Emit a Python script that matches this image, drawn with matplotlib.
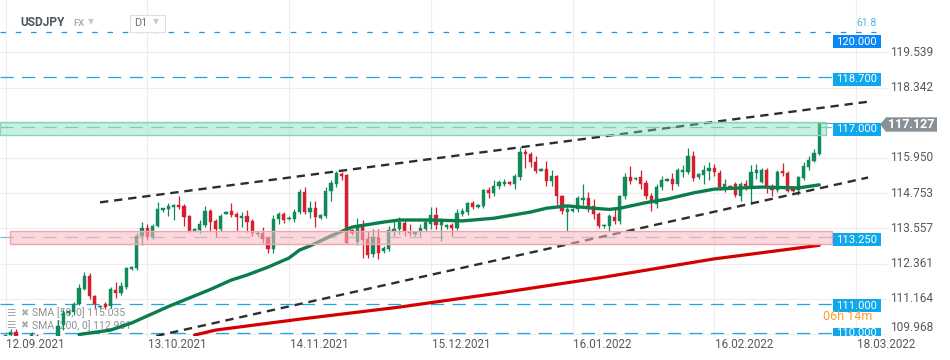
import matplotlib
matplotlib.use("Agg")
import matplotlib.pyplot as plt
import matplotlib.transforms as mtransforms
from matplotlib.patches import Rectangle, Polygon
import pandas as pd

plt.rcParams['font.family'] = ['Roboto', 'DejaVu Sans']
plt.rcParams['lines.scale_dashes'] = False

# ---------------- data ----------------
symbol = "USDJPY"
market = "FX"
interval = "D1"
dates = [d for d in pd.date_range("2021-09-12", "2022-03-11") if d.weekday() != 5]

opens = [109.90, 109.92, 110.05, 109.70, 109.38, 109.72, 109.90, 109.85, 109.40, 109.22,
         109.78, 110.27, 110.68, 110.72, 111.00, 111.50, 111.94, 111.27, 110.88, 110.97,
         110.92, 111.46, 111.36, 111.58, 112.18, 112.22, 113.28, 113.58, 113.25, 113.65,
         114.18, 114.20, 114.28, 114.36, 114.30, 113.97, 113.48, 113.50, 113.68, 114.15,
         113.82, 113.55, 114.05, 114.14, 114.05, 113.92, 113.98, 113.80, 113.35, 113.40,
         113.22, 112.85, 113.88, 114.05, 113.86, 113.88, 114.10, 114.80, 114.10, 114.25,
         113.90, 113.98, 114.82, 115.08, 115.42, 115.37, 113.50, 113.10, 113.60, 113.20,
         112.70, 113.22, 112.78, 112.85, 113.45, 113.52, 113.75, 113.44, 113.35, 113.45,
         113.55, 113.72, 114.02, 113.66, 113.60, 113.66, 113.58, 114.06, 114.10, 114.43,
         114.28, 114.32, 114.85, 114.75, 114.98, 115.05, 115.12, 115.05, 115.30, 116.15,
         116.10, 115.82, 115.52, 115.58, 115.15, 115.32, 114.65, 114.10, 114.15, 114.20,
         114.52, 114.60, 114.32, 114.05, 113.62, 113.65, 113.95, 113.80, 114.65, 115.30,
         115.22, 115.30, 115.10, 114.65, 114.40, 114.95, 115.18, 115.25, 115.08, 115.48,
         115.48, 116.00, 115.30, 115.38, 115.50, 115.62, 115.45, 114.95, 115.00, 115.08,
         114.65, 115.07, 114.98, 115.45, 115.14, 115.54, 114.95, 114.85, 115.50, 115.45,
         114.90, 114.86, 115.28, 115.65, 115.85, 116.10]
highs = [109.95, 110.15, 110.15, 109.75, 109.85, 110.05, 109.95, 109.90, 109.70, 109.85,
         110.45, 110.80, 110.78, 111.07, 111.68, 112.08, 112.05, 111.30, 110.95, 111.05,
         111.58, 111.72, 111.75, 112.25, 112.27, 113.40, 113.78, 113.72, 113.70, 114.45,
         114.26, 114.43, 114.40, 114.66, 114.40, 114.00, 113.56, 113.85, 114.30, 114.22,
         113.88, 114.05, 114.15, 114.43, 114.12, 114.12, 114.18, 113.88, 113.45, 113.60,
         113.30, 114.00, 114.10, 114.10, 113.96, 114.20, 114.88, 114.97, 114.50, 114.50,
         114.05, 114.95, 115.20, 115.52, 115.47, 115.42, 113.55, 113.90, 113.85, 113.45,
         113.55, 113.55, 112.95, 113.62, 113.80, 113.95, 113.85, 113.70, 113.45, 113.70,
         113.85, 114.27, 114.27, 113.90, 113.70, 113.75, 114.20, 114.25, 114.45, 114.48,
         114.38, 114.90, 114.95, 115.20, 115.20, 115.22, 115.15, 115.40, 116.33, 116.25,
         116.16, 116.00, 115.60, 115.85, 115.55, 115.38, 114.70, 114.30, 114.25, 114.65,
         115.05, 114.78, 114.55, 114.10, 113.70, 114.05, 114.20, 114.70, 115.45, 115.68,
         115.30, 115.55, 115.20, 114.75, 115.05, 115.35, 115.28, 115.45, 115.60, 115.70,
         116.30, 116.20, 115.45, 115.70, 115.80, 115.75, 115.55, 115.25, 115.02, 115.12,
         115.12, 115.20, 115.70, 115.75, 115.60, 115.60, 115.05, 115.55, 115.78, 115.50,
         114.92, 115.35, 115.80, 116.00, 116.25, 117.18]
lows = [109.85, 109.80, 109.55, 109.12, 109.25, 109.60, 109.80, 109.12, 109.10, 109.10,
        109.65, 110.10, 110.62, 110.60, 110.95, 111.45, 111.15, 110.85, 110.85, 110.82,
        110.85, 111.20, 111.30, 111.50, 112.15, 112.15, 113.00, 113.15, 113.18, 113.60,
        114.12, 113.97, 113.84, 114.20, 113.62, 113.42, 113.45, 113.40, 113.60, 113.45,
        113.26, 113.45, 114.03, 113.94, 113.48, 113.60, 113.43, 113.30, 113.30, 113.05,
        112.72, 112.73, 113.70, 113.75, 113.84, 113.78, 114.05, 114.05, 113.90, 113.60,
        113.88, 113.90, 114.48, 114.95, 115.20, 113.03, 113.32, 112.98, 112.55, 112.55,
        112.60, 112.50, 112.72, 112.78, 113.30, 113.35, 113.30, 113.30, 113.30, 113.30,
        113.45, 113.55, 113.55, 113.12, 113.55, 113.30, 113.50, 113.98, 114.00, 114.22,
        114.25, 114.25, 114.60, 114.65, 114.90, 114.98, 115.02, 114.88, 115.20, 115.60,
        115.64, 115.45, 115.50, 114.98, 114.98, 114.35, 114.05, 113.48, 114.10, 114.10,
        114.35, 114.10, 113.88, 113.58, 113.58, 113.48, 113.70, 113.72, 114.55, 115.05,
        115.20, 114.90, 114.55, 114.15, 114.25, 114.85, 115.15, 114.85, 115.00, 115.30,
        115.40, 115.15, 115.25, 115.05, 115.20, 115.35, 114.85, 114.80, 114.92, 114.62,
        114.50, 114.85, 114.38, 115.25, 115.10, 114.75, 114.65, 114.80, 115.35, 114.78,
        114.78, 114.70, 115.20, 115.55, 115.80, 116.05]
closes = [109.92, 110.05, 109.70, 109.38, 109.72, 109.95, 109.85, 109.40, 109.22, 109.78,
          110.25, 110.67, 110.75, 111.00, 111.52, 111.95, 111.25, 110.97, 110.93, 110.90,
          111.50, 111.35, 111.60, 112.20, 112.24, 113.30, 113.58, 113.25, 113.65, 114.20,
          114.24, 114.32, 114.36, 114.28, 113.95, 113.45, 113.53, 113.70, 114.15, 113.78,
          113.55, 113.98, 114.12, 114.00, 113.95, 113.98, 113.77, 113.40, 113.40, 113.20,
          112.85, 113.88, 114.05, 113.85, 113.92, 114.12, 114.80, 114.10, 114.25, 113.95,
          114.02, 114.82, 115.10, 115.45, 115.35, 113.06, 113.40, 113.62, 113.16, 112.65,
          113.25, 112.72, 112.90, 113.50, 113.55, 113.78, 113.45, 113.40, 113.42, 113.58,
          113.78, 114.02, 113.68, 113.76, 113.66, 113.56, 114.08, 114.14, 114.42, 114.28,
          114.36, 114.85, 114.75, 115.00, 115.12, 115.12, 115.06, 115.33, 116.15, 116.08,
          115.80, 115.50, 115.58, 115.15, 115.33, 114.65, 114.15, 114.20, 114.22, 114.58,
          114.60, 114.33, 114.05, 113.62, 113.68, 113.98, 113.80, 114.65, 115.30, 115.16,
          115.28, 115.05, 114.65, 114.45, 114.95, 115.20, 115.25, 115.08, 115.55, 115.55,
          116.02, 115.28, 115.42, 115.55, 115.62, 115.48, 114.95, 115.08, 114.95, 114.68,
          115.08, 114.98, 115.48, 115.55, 115.54, 114.96, 114.85, 115.48, 115.43, 114.82,
          114.82, 115.30, 115.66, 115.88, 116.13, 117.127]

sma50_idx = [14, 20, 24, 31, 39, 43, 46, 50, 54, 56, 58, 62, 66, 72, 75, 81, 87, 93,
             100, 103, 107, 112, 115, 117, 122, 126, 131, 135, 144, 151, 155]
sma50_val = [109.95, 110.10, 110.34, 110.90, 111.48, 111.80, 111.97, 112.24, 112.55, 112.82,
             112.96, 113.30, 113.60, 113.77, 113.84, 113.84, 113.81, 113.90, 114.11, 114.24,
             114.32, 114.24, 114.20, 114.24, 114.43, 114.55, 114.76, 114.89, 114.96, 114.93, 115.035]
sma200_idx = [36, 40, 56, 75, 94, 113, 135, 155]
sma200_val = [109.93, 110.10, 110.47, 110.88, 111.36, 111.87, 112.52, 112.981]

sma50_label = "SMA [50, 0] 115.035"
sma200_label = "SMA [200, 0] 112.981"

channel_upper_idx = [18.0, 164.3]
channel_upper_val = [114.44, 117.86]
channel_lower_idx = [28.7, 164.3]
channel_lower_val = [109.90, 115.285]

fib_level = 120.24
fib_label = "61.8"
level_values = [120.000, 118.700, 117.000, 113.250, 111.000, 110.000]
level_labels = ["120.000", "118.700", "117.000", "113.250", "111.000", "110.000"]
resistance_zone = [116.73, 117.16]
support_zone = [113.02, 113.47]
last_price = 117.127
countdown = "06h 14m"

price_ticks = [119.539, 118.342, 117.146, 115.950, 114.753, 113.557, 112.361, 111.164, 109.968]
price_tick_labels = ["119.539", "118.342", "", "115.950", "114.753", "113.557", "112.361", "111.164", "109.968"]
date_tick_pos = [0, 27, 54, 81, 108, 135, 162]
date_tick_labels = ["12.09.2021", "13.10.2021", "14.11.2021", "15.12.2021",
                    "16.01.2022", "16.02.2022", "18.03.2022"]

# ---------------- figure ----------------
W, H = 950, 360
fig = plt.figure(figsize=(W / 100, H / 100), dpi=100)
fig.patch.set_facecolor("white")
ax = fig.add_axes([0, 24 / H, 887 / W, 336 / H])
ax.set_xlim(-1.057, 167.9)
ax.set_ylim(109.899, 121.316)
ax.axis("off")

YB, YT = 109.899, 121.316
XL, XR = -1.057, 167.9


def px(x, y):
    return x / W, 1 - y / H


def ix(xpx):  # pixel -> index units (layout only)
    return XL + (XR - XL) * xpx / 887.0


GREEN = "#108a59"
RED = "#d61f2e"

# grid
for t in date_tick_pos:
    ax.axvline(t, color="#ededed", lw=0.8, zorder=0)
for p in price_ticks:
    ax.axhline(p, color="#ededed", lw=0.8, zorder=0)

# horizontal levels
lvl_colors = ["#1b97e2", "#1ba6e8", "#62c2e6", "#94b2d6", "#1ba6e8", "#1ba6e8"]
for v, c in zip(level_values[1:], lvl_colors[1:]):
    ax.plot([XL, ix(833)], [v, v], color=c, lw=0.9, dashes=(9.5, 6.0), zorder=2)
ax.plot([XL, ix(876)], [fib_level, fib_level], color="#1b97e2", lw=0.9,
        dashes=(4.0, 7.0), zorder=2)

# candles
for i, (o, h, l, c) in enumerate(zip(opens, highs, lows, closes)):
    col = GREEN if c >= o else RED
    ax.vlines(i, l, h, color=col, lw=0.9, zorder=3)
    b = min(o, c)
    hgt = max(abs(c - o), 0.04)
    ax.add_patch(Rectangle((i - 0.31, b), 0.62, hgt, facecolor=col,
                           edgecolor=col, lw=0.3, zorder=3))

# SMA lines
ax.plot(sma200_idx, sma200_val, color="#d40000", lw=2.3, zorder=4, solid_capstyle="round")
ax.plot(sma50_idx, sma50_val, color="#0b7d4c", lw=2.4, zorder=4, solid_capstyle="round")

# channel lines
ax.plot(channel_upper_idx, channel_upper_val, color="#2d2d2d", lw=1.7, dashes=(6.0, 4.2), zorder=4)
ax.plot(channel_lower_idx, channel_lower_val, color="#2d2d2d", lw=1.7, dashes=(6.0, 4.2), zorder=4)

# zones (drawn on top, semi-transparent)
ax.add_patch(Rectangle((XL, resistance_zone[0]), ix(826) - XL, resistance_zone[1] - resistance_zone[0],
                       facecolor=(0.50, 0.86, 0.72, 0.42), edgecolor="#80d9b6", lw=1.0, zorder=5))
ax.add_patch(Rectangle((ix(10), support_zone[0]), ix(832) - ix(10), support_zone[1] - support_zone[0],
                       facecolor=(0.97, 0.72, 0.75, 0.55), edgecolor="#f3a4ab", lw=1.0, zorder=5))

# current price line
ax.plot([len(closes) - 1, XR], [last_price, last_price], color="#8b9297", lw=0.8, zorder=4)

# level label boxes (inside axes, right side)
box_colors = ["#0a86f5", "#0ea8ec", "#0ea8ec", "#0ea8ec", "#0ea8ec", "#0ea8ec"]
ppx = (YT - YB) / 336.0
bh = 13.0 * ppx
for v, lab, bc in zip(level_values, level_labels, box_colors):
    yc = v - 2.3 * ppx
    if lab == "120.000":
        yc = v - 3.0 * ppx
    ty = yc
    if lab == "110.000":
        yc = v - 1.5 * ppx
        ty = v + 0.5 * ppx
    ax.add_patch(Rectangle((ix(833), yc - bh / 2), ix(880.7) - ix(833), bh,
                           facecolor=bc, edgecolor="none", zorder=8, clip_on=True))
    ax.text((ix(833) + ix(880.7)) / 2, ty, lab, color="white", fontsize=8.1,
            ha="center", va="center", zorder=9, clip_on=True)

# fib label
fig.text(*px(856, 23), fib_label, color="#55b3e6", fontsize=7.5, va="center", ha="left")

# y tick labels
for p, lab in zip(price_ticks, price_tick_labels):
    if not lab:
        continue
    ax.text(ix(890), p, lab, color="#555a5f", fontsize=8.6, ha="left",
            va="bottom" if p == price_ticks[-1] else "center", clip_on=False)

# x tick labels
tr = mtransforms.blended_transform_factory(ax.transData, fig.transFigure)
for t, lab in zip(date_tick_pos, date_tick_labels):
    ax.text(t + 0.15, 1 - 345 / H, lab, transform=tr, color="#555a5f", fontsize=8.4,
            ha="left", va="center", clip_on=False)

# current price tag
tag = [px(880, 124.5), px(886, 117.3), px(937, 117.3), px(937, 131.7), px(886, 131.7)]
fig.add_artist(Polygon(tag, closed=True, transform=fig.transFigure,
                       facecolor="#8a9196", edgecolor="none", zorder=10))
fig.text(*px(911.5, 124.8), f"{last_price:.3f}", color="white", fontsize=9,
         fontweight="bold", ha="center", va="center", zorder=11)

# countdown
fig.text(*px(823, 317), countdown, color="#f5a02a", fontsize=9, ha="left", va="center")

# header
fig.text(*px(20, 22.5), symbol, color="#4b545c", fontsize=8.6, fontweight="bold",
         ha="left", va="center")
fig.text(*px(73, 23.5), market, color="#abb2b8", fontsize=6.8, fontweight="bold",
         ha="left", va="center")
fig.text(*px(88, 21.5), "▼", color="#c6ccd1", fontsize=5.5, ha="left", va="center",
         family=["DejaVu Sans"])
fig.add_artist(Rectangle(px(129.5, 31.5), 35 / W, 17 / H, transform=fig.transFigure,
                         facecolor="white", edgecolor="#dde0e4", lw=0.8, zorder=5))
fig.text(*px(134.5, 23), interval, color="#6b737a", fontsize=7.8, ha="left", va="center", zorder=6)
fig.text(*px(153, 22), "▼", color="#c6ccd1", fontsize=5.5, ha="left", va="center",
         family=["DejaVu Sans"], zorder=6)

# SMA legend (under candles)
for yy, lab in [(313, sma50_label), (325.5, sma200_label)]:
    ax.text(*px(6, yy), "☰", transform=fig.transFigure, color="#a0a5aa", fontsize=7.5,
            ha="left", va="center", zorder=2, family=["DejaVu Sans"])
    ax.text(*px(20, yy), "✖", transform=fig.transFigure, color="#a9aeb3", fontsize=7,
            ha="left", va="center", zorder=2, family=["DejaVu Sans"])
    ax.text(*px(32, yy), lab, transform=fig.transFigure, color="#8e9297", fontsize=7.6,
            ha="left", va="center", zorder=2)

fig.savefig("out.png", dpi=100, facecolor="white")
